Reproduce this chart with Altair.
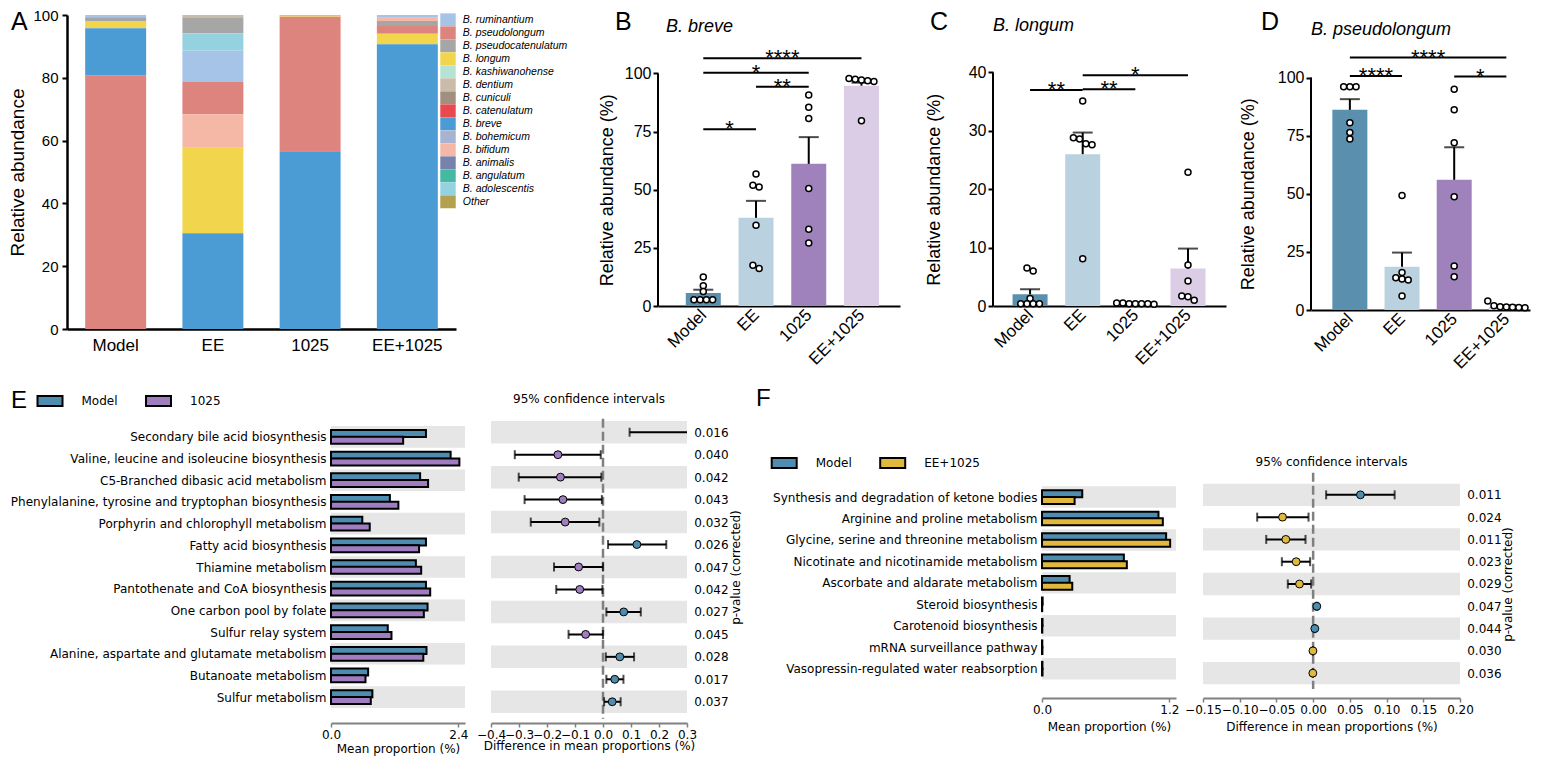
import json
import altair as alt
import pandas as pd

FT = "Liberation Sans, Arial, sans-serif"
FN = "Liberation Sans Narrow, Liberation Sans, sans-serif"
FB = "DejaVu Sans, sans-serif"

# ---------------- data ----------------
groups = ["Model", "EE", "1025", "EE+1025"]
group_colors = ["#5a8fae", "#bad1df", "#9f82bb", "#dacde5"]

species = ["B. ruminantium", "B. pseudolongum", "B. pseudocatenulatum", "B. longum",
           "B. kashiwanohense", "B. dentium", "B. cuniculi", "B. catenulatum", "B. breve",
           "B. bohemicum", "B. bifidum", "B. animalis", "B. angulatum", "B. adolescentis", "Other"]
species_colors = ["#a6c3e8", "#dd847e", "#a6a6a6", "#f1d64d", "#b5e3d6", "#c9bcaa", "#a38f80",
                  "#e84a4f", "#4b9bd5", "#a8b2d1", "#f5b8a7", "#7683ad", "#46b9a2", "#94d2e0", "#b4a14f"]
abund_model = [0.7, 80.7, 1.2, 2.3, 0, 0, 0, 0, 15.1, 0, 0, 0, 0, 0, 0]
abund_ee = [10.0, 10.3, 5.1, 27.2, 0, 0.7, 0, 0, 30.5, 0, 10.7, 0, 0, 5.5, 0]
abund_1025 = [0.12, 42.9, 0.15, 0.2, 0, 0, 0, 0, 56.6, 0, 0.03, 0, 0, 0, 0]
abund_ee1025 = [0.9, 2.5, 1.6, 3.3, 0, 0, 0, 0, 90.7, 0, 1.0, 0, 0, 0, 0]

breve_mean = [5.6, 37.9, 61.1, 94.7]
breve_sem = [7.0, 45.2, 72.6, 96.0]
breve_dots = [[12.5, 8.7, 6.2, 2.7, 2.7, 2.7, 2.7],
              [56.7, 51.9, 51.2, 34.7, 17.5, 16.1],
              [90.7, 85.4, 80.6, 50.5, 33.0, 27.1],
              [97.8, 97.5, 97.2, 96.8, 96.5, 79.6]]
breve_sig = [("Model", "EE", 76.0, "*"), ("EE", "1025", 94.3, "**"),
             ("Model", "1025", 100.3, "*"), ("Model", "EE+1025", 106.5, "****")]

longum_mean = [2.0, 26.0, 0.4, 6.4]
longum_sem = [2.86, 29.7, 0.5, 9.83]
longum_dots = [[6.5, 6.0, 1.3, 0.4, 0.4, 0.4, 0.4],
               [35.1, 28.8, 28.6, 27.8, 27.6, 8.1],
               [0.5, 0.5, 0.4, 0.4, 0.4, 0.3, 0.4],
               [22.9, 7.0, 4.3, 1.7, 1.6, 1.0]]
longum_sig = [("Model", "EE", 37.0, "**"), ("EE", "1025", 37.1, "**"), ("EE", "EE+1025", 39.5, "*")]

pseudo_mean = [86.1, 18.6, 56.0, 1.4]
pseudo_sem = [90.7, 24.7, 70.0, 2.0]
pseudo_dots = [[96.0, 96.0, 96.0, 80.6, 76.4, 73.6],
               [49.3, 16.1, 13.9, 13.3, 12.9, 6.0],
               [95.0, 86.1, 71.9, 48.7, 18.9, 14.3],
               [3.9, 1.8, 1.4, 1.3, 1.2, 1.1, 1.0]]
pseudo_sig = [("Model", "EE", 100.7, "****"), ("Model", "EE+1025", 108.6, "****"),
              ("1025", "EE+1025", 100.4, "*")]

e_paths = ["Secondary bile acid biosynthesis", "Valine, leucine and isoleucine biosynthesis",
           "C5-Branched dibasic acid metabolism", "Phenylalanine, tyrosine and tryptophan biosynthesis",
           "Porphyrin and chlorophyll metabolism", "Fatty acid biosynthesis", "Thiamine metabolism",
           "Pantothenate and CoA biosynthesis", "One carbon pool by folate", "Sulfur relay system",
           "Alanine, aspartate and glutamate metabolism", "Butanoate metabolism", "Sulfur metabolism"]
e_model = [1.79, 2.255, 1.68, 1.11, 0.59, 1.79, 1.60, 1.79, 1.82, 1.07, 1.80, 0.70, 0.78]
e_1025 = [1.36, 2.42, 1.83, 1.27, 0.73, 1.66, 1.70, 1.87, 1.75, 1.14, 1.74, 0.65, 0.75]
e_diff = [0.43, -0.161, -0.152, -0.143, -0.135, 0.121, -0.087, -0.083, 0.074, -0.062, 0.060, 0.042, 0.033]
e_lo = [0.095, -0.315, -0.301, -0.280, -0.258, 0.018, -0.175, -0.167, 0.012, -0.123, 0.010, 0.012, 0.004]
e_hi = [0.77, -0.008, -0.006, -0.004, -0.013, 0.226, 0.0, -0.002, 0.135, 0.0, 0.111, 0.073, 0.063]
e_p = ["0.016", "0.040", "0.042", "0.043", "0.032", "0.026", "0.047", "0.042", "0.027",
       "0.045", "0.028", "0.017", "0.037"]

f_paths = ["Synthesis and degradation of ketone bodies", "Arginine and proline metabolism",
           "Glycine, serine and threonine metabolism", "Nicotinate and nicotinamide metabolism",
           "Ascorbate and aldarate metabolism", "Steroid biosynthesis", "Carotenoid biosynthesis",
           "mRNA surveillance pathway", "Vasopressin-regulated water reabsorption"]
f_model = [0.379, 1.097, 1.169, 0.771, 0.260, 0.006, 0.005, 0.003, 0.004]
f_ee1025 = [0.307, 1.138, 1.207, 0.799, 0.285, 0.002, 0.003, 0.004, 0.005]
f_diff = [0.0644, -0.0417, -0.0372, -0.0231, -0.0186, 0.0050, 0.0023, -0.0003, -0.0004]
f_lo = [0.0177, -0.0762, -0.0639, -0.0426, -0.0345, 0.0040, 0.0015, -0.0006, -0.0007]
f_hi = [0.1110, -0.0063, -0.0104, -0.0041, -0.0027, 0.0060, 0.0030, 0.0000, -0.0001]
f_p = ["0.011", "0.024", "0.011", "0.023", "0.029", "0.047", "0.044", "0.030", "0.036"]

c_model = "#4e8db0"
c_1025 = "#a07cc0"
c_ee1025 = "#e0b93c"
GRAY = "#e6e6e6"
AXGRAY = "#808080"

ONE = pd.DataFrame({"k": [0]})
LET_SIZE = 25
LET_Y = 15.1


def text_at(txt, x, y, font, size, style="normal", align="left", baseline="alphabetic"):
    return alt.Chart(ONE).mark_text(text=txt, font=font, fontSize=size, fontStyle=style,
                                    align=align, baseline=baseline, color="black").encode(
        x=alt.value(x), y=alt.value(y))


def spacer(w):
    return alt.Chart(ONE).mark_point(opacity=0).encode(
        x=alt.X("k:Q", axis=None), y=alt.Y("k:Q", axis=None)).properties(width=w, height=1)


# ---------------- panel A ----------------
A_W, A_H = 389, 314
abund = [abund_model, abund_ee, abund_1025, abund_ee1025]
dfA = pd.DataFrame([{"group": g, "species": s, "value": v}
                    for g, vals in zip(groups, abund) for s, v in zip(species, vals) if v > 0])
A_bars = alt.Chart(dfA).mark_bar().encode(
    x=alt.X("group:N", sort=groups, scale=alt.Scale(paddingInner=0.373, paddingOuter=0.187),
            axis=alt.Axis(title=None, labelAngle=0, ticks=False, labelFont=FT, labelFontSize=17,
                          labelPadding=8, domainColor="black", domainWidth=2.5, labelColor="black")),
    y=alt.Y("value:Q", stack="zero", scale=alt.Scale(domain=[0, 100], nice=False),
            axis=alt.Axis(title="Relative abundance", values=[0, 20, 40, 60, 80, 100], grid=False,
                          tickSize=5, tickWidth=2, tickColor="black", domainColor="black",
                          domainWidth=2.5, labelFont=FT, labelFontSize=15, labelPadding=4,
                          titleFont=FT, titleFontSize=19, titleFontWeight="normal", titlePadding=5,
                          labelColor="black", titleColor="black")),
    color=alt.Color("species:N", scale=alt.Scale(domain=species, range=species_colors),
                    legend=alt.Legend(title=None, orient="none", legendX=374.5, legendY=-1.7,
                                      symbolType="M-1.2,-1H1.2V1H-1.2Z", symbolSize=166,
                                      symbolStrokeWidth=0, symbolOpacity=1, labelFont=FT,
                                      labelFontSize=10.5, labelFontStyle="italic", labelOffset=8.3,
                                      rowPadding=0, padding=0, labelColor="black")),
    order=alt.Order("value:Q", sort="descending"),
)
panelA = alt.layer(A_bars, text_at("A", -56, LET_Y, FN, LET_SIZE)).properties(width=A_W, height=A_H)


# ---------------- panels B-D ----------------
def swarm(values, thr, step):
    vals = sorted(values, reverse=True)
    clusters = [[vals[0]]]
    for v in vals[1:]:
        if clusters[-1][-1] - v < thr:
            clusters[-1].append(v)
        else:
            clusters.append([v])
    res = []
    for c in clusters:
        k = len(c)
        for j, v in enumerate(c):
            res.append((v, (j - (k - 1) / 2) * step))
    return res


def abundance_panel(letter, letter_x, title, title_x, title_y, means, sems, dots, sig,
                    W, H, ytop, yaxis_max, yticks, xdom, ytitle_x):
    step = W / (xdom[1] - xdom[0])
    ppu = H / ytop
    bars = pd.DataFrame({"i": list(range(4)), "grp": groups, "mean": means, "sem": sems})
    drows = []
    for i, vals in enumerate(dots):
        for v, off in swarm(vals, 5 / ppu, 6.5 / step):
            drows.append({"i": i + off, "mean": v})
    sig_df = pd.DataFrame([{"i": groups.index(a), "ib": groups.index(b),
                            "im": (groups.index(a) + groups.index(b)) / 2, "mean": y, "lab": s}
                           for a, b, y, s in sig])
    xs = alt.Scale(domain=xdom, nice=False, zero=False)
    ys = alt.Scale(domain=[0, ytop], nice=False, zero=False)
    xax = alt.Axis(values=[0, 1, 2, 3], labelExpr=json.dumps(groups) + "[datum.value]", title=None,
                   grid=False, ticks=False, labelAngle=315, labelAlign="right", labelBaseline="middle",
                   labelPadding=6, labelFont=FT, labelFontSize=17, labelFlush=False,
                   labelOverlap=False, domainColor="black", domainWidth=2, labelColor="black")
    yax = alt.Axis(values=yticks, title="Relative abundance (%)", grid=False, domain=False,
                   tickSize=5, tickWidth=2, tickColor="black", labelFont=FT, labelFontSize=16,
                   labelPadding=2, titleFont=FT, titleFontSize=18, titleFontWeight="normal",
                   titleX=ytitle_x, titleBaseline="bottom", titleAngle=270,
                   labelColor="black", titleColor="black",
                   titleY=H - (yaxis_max / 2) * ppu)
    X = lambda f: alt.X(f, scale=xs, axis=xax)
    Y = lambda f: alt.Y(f, scale=ys, axis=yax)
    base = alt.Chart(bars).mark_bar(size=35).encode(
        x=X("i:Q"), y=Y("mean:Q"),
        color=alt.Color("grp:N", scale=alt.Scale(domain=groups, range=group_colors), legend=None))
    err = alt.Chart(bars).mark_rule(color="black", strokeWidth=2).encode(x=X("i:Q"), y=Y("mean:Q"), y2="sem")
    cap = alt.Chart(bars).mark_tick(orient="horizontal", size=20, thickness=2, color="black").encode(
        x=X("i:Q"), y=Y("sem:Q"))
    pts = alt.Chart(pd.DataFrame(drows)).mark_circle(size=36, color="white", stroke="black",
                                                     strokeWidth=1.5, opacity=1).encode(
        x=X("i:Q"), y=Y("mean:Q"))
    yl = alt.Chart(pd.DataFrame({"mean": [0], "b": [yaxis_max]})).mark_rule(
        color="black", strokeWidth=2).encode(x=alt.value(0), y=Y("mean:Q"), y2="b")
    brk = alt.Chart(sig_df).mark_rule(color="black", strokeWidth=2).encode(
        x=X("i:Q"), x2="ib", y=Y("mean:Q"))
    stars = alt.Chart(sig_df).mark_text(font=FT, fontSize=22, baseline="alphabetic", dy=7,
                                        color="black").encode(
        x=X("im:Q"), y=Y("mean:Q"), text="lab:N")
    return alt.layer(base, err, cap, pts, yl, brk, stars,
                     text_at(letter, letter_x, LET_Y, FN, LET_SIZE),
                     text_at(title, title_x, title_y, FT, 18, style="italic")
                     ).properties(width=W, height=H)


panelB = abundance_panel("B", -43, "B. breve", 8, 16.6, breve_mean, breve_sem, breve_dots, breve_sig,
                         242, 291, 125.1, 100, [0, 25, 50, 75, 100], [-0.764, 3.636], -42)
panelC = abundance_panel("C", -63, "B. longum", 0, 16.3, longum_mean, longum_sem, longum_dots, longum_sig,
                         233, 291, 49.83, 40, [0, 10, 20, 30, 40], [-0.609, 3.627], -50)
panelD = abundance_panel("D", -50, "B. pseudolongum", 0, 20, pseudo_mean, pseudo_sem, pseudo_dots,
                         pseudo_sig, 219, 295, 126.9, 100, [0, 25, 50, 75, 100], [-0.649, 3.357], -54)


# ---------------- panels E / F ----------------
def lookup_expr(labels):
    return json.dumps(labels) + "[datum.value]"


def prop_bars(names, v1, v2, labels, colors, xmax, xticks, W, H, ydom, leg_x, leg_y,
              letter, letter_x, letter_y, ax_off, xtitle_pad):
    n = len(names)
    off = 0.155
    rows = []
    for i in range(n):
        for k, vals in enumerate([v1, v2]):
            rows.append({"series": labels[k], "value": vals[i], "row": i + (2 * k - 1) * off})
    df = pd.DataFrame(rows)
    bg = pd.DataFrame({"row": [i - 0.5 for i in range(0, n, 2)], "yhi": [i + 0.5 for i in range(0, n, 2)]})
    ys = alt.Scale(domain=ydom, reverse=True, nice=False, zero=False)
    xs = alt.Scale(domain=[0, xmax], nice=False, zero=False)
    yax = alt.Axis(values=list(range(n)), labelExpr=lookup_expr(names), domain=False, ticks=False,
                   grid=False, title=None, labelFont=FB, labelFontSize=12, labelPadding=5,
                   labelLimit=600, labelColor="black")
    xax = alt.Axis(values=xticks, format=".1f", grid=False, domainColor=AXGRAY, domainWidth=2,
                   tickColor=AXGRAY, tickWidth=1.5, tickSize=4, offset=ax_off, labelFont=FB,
                   labelFontSize=12, labelPadding=2, labelFlush=False, labelColor="black",
                   title="Mean proportion (%)", titleFont=FB, titleFontSize=12,
                   titleFontWeight="normal", titlePadding=xtitle_pad, titleColor="black")
    bgl = alt.Chart(bg).mark_rect(color=GRAY).encode(
        x=alt.value(0), x2=alt.value(W), y=alt.Y("row:Q", scale=ys, axis=yax), y2="yhi")
    bars = alt.Chart(df).mark_bar(orient="horizontal", size=7, stroke="black", strokeWidth=2).encode(
        x=alt.X("value:Q", scale=xs, axis=xax, stack=None),
        y=alt.Y("row:Q", scale=ys, axis=yax),
        fill=alt.Fill("series:N", scale=alt.Scale(domain=labels, range=colors),
                      legend=alt.Legend(title=None, orient="none", legendX=leg_x, legendY=leg_y,
                                        direction="horizontal",
                                        symbolType="M-1.25,-0.5H1.25V0.5H-1.25Z", symbolSize=400,
                                        symbolStrokeColor="black", symbolStrokeWidth=2,
                                        symbolOpacity=1, labelFont=FB, labelFontSize=12,
                                        labelOffset=20.5, columnPadding=23.5, padding=0,
                                        labelColor="black")))
    return alt.layer(bgl, bars, text_at(letter, letter_x, letter_y, FN, 24)).properties(width=W, height=H)


def ci_panel(diffs, lo, hi, pvals, pos_color, neg_color, xdom, xticks, fmt, W, H, ydom, zspan,
             title_y, ptitle_x, ptitle_y, xtitle_pad, ax_off):
    n = len(diffs)
    df = pd.DataFrame({"row": list(range(n)), "diff": diffs, "lo": lo, "hi": hi,
                       "col": [pos_color if d > 0 else neg_color for d in diffs]})
    bg = pd.DataFrame({"row": [i - 0.5 for i in range(0, n, 2)], "yhi": [i + 0.5 for i in range(0, n, 2)]})
    ys = alt.Scale(domain=ydom, reverse=True, nice=False, zero=False)
    xs = alt.Scale(domain=xdom, nice=False, zero=False)
    yax = alt.Axis(orient="right", values=list(range(n)), labelExpr=lookup_expr(pvals), domain=False,
                   ticks=False, grid=False, labelFont=FB, labelFontSize=12, labelPadding=6.7,
                   labelColor="black", title="p-value (corrected)", titleAngle=270,
                   titleBaseline="middle", titleAlign="center", titleX=ptitle_x, titleY=ptitle_y,
                   titleFont=FB, titleFontSize=12, titleFontWeight="normal", titleColor="black")
    xax = alt.Axis(values=xticks, format=fmt, grid=False, domainColor=AXGRAY, domainWidth=2,
                   tickColor=AXGRAY, tickWidth=1.5, tickSize=4, offset=ax_off, labelFont=FB,
                   labelFontSize=12, labelPadding=2, labelFlush=False, labelOverlap=False,
                   labelColor="black", title="Difference in mean proportions (%)", titleFont=FB,
                   titleFontSize=12, titleFontWeight="normal", titlePadding=xtitle_pad,
                   titleColor="black")
    X = lambda f: alt.X(f, scale=xs, axis=xax)
    Y = lambda f: alt.Y(f, scale=ys, axis=yax)
    bgl = alt.Chart(bg).mark_rect(color=GRAY).encode(x=alt.value(0), x2=alt.value(W), y=Y("row:Q"), y2="yhi")
    zero = alt.Chart(pd.DataFrame({"lo": [0], "row": [zspan[0]], "b": [zspan[1]]})).mark_rule(
        color=AXGRAY, strokeWidth=2.5, strokeDash=[9, 4]).encode(x=X("lo:Q"), y=Y("row:Q"), y2="b")
    line = alt.Chart(df).mark_rule(color="black", strokeWidth=2, clip=True).encode(
        x=X("lo:Q"), x2="hi", y=Y("row:Q"))
    cap_lo = alt.Chart(df).mark_tick(orient="vertical", size=9, thickness=2, color="black",
                                     clip=True).encode(x=X("lo:Q"), y=Y("row:Q"))
    cap_hi = alt.Chart(df).mark_tick(orient="vertical", size=9, thickness=2, color="black",
                                     clip=True).encode(x=X("hi:Q"), y=Y("row:Q"))
    pts = alt.Chart(df).mark_circle(size=62, stroke="black", strokeWidth=1, opacity=1,
                                    clip=True).encode(
        x=X("diff:Q"), y=Y("row:Q"), fill=alt.Fill("col:N", scale=None))
    ttl = text_at("95% confidence intervals", W / 2, title_y, FB, 12, align="center", baseline="middle")
    return alt.layer(bgl, zero, line, cap_lo, cap_hi, pts, ttl).properties(width=W, height=H)


E_TOP = 420.0
E_H = 292
F_H = 266
E_dom = [-0.5, 12.5]
F_dom = [-0.5 - (482.7 - E_TOP) / 22.29, 8.5 + (E_TOP + F_H - 683.3) / 22.29]

panelE1 = prop_bars(e_paths, e_model, e_1025, ["Model", "1025"], [c_model, c_1025], 2.526, [0, 2.4],
                    134, E_H, E_dom, -292, 389 - E_TOP, "E", -320, 407 - E_TOP, 10, 3)
panelE2 = ci_panel(e_diff, e_lo, e_hi, e_p, c_model, c_1025, [-0.4, 0.3],
                   [-0.4, -0.3, -0.2, -0.1, 0.0, 0.1, 0.2, 0.3], ".1f", 196, E_H, E_dom,
                   [-0.6, 12.76], 398 - E_TOP, 48, E_H / 2, 0, 10)
panelF1 = prop_bars(f_paths, f_model, f_ee1025, ["Model", "EE+1025"], [c_model, c_ee1025], 1.262,
                    [0, 1.2], 134, F_H, F_dom, -268.8, 451 - E_TOP, "F", -286, 405 - E_TOP, 11, 6)
panelF2 = ci_panel(f_diff, f_lo, f_hi, f_p, c_model, c_ee1025, [-0.15, 0.20],
                   [-0.15, -0.10, -0.05, 0.0, 0.05, 0.10, 0.15, 0.20], ".2f", 257, F_H, F_dom,
                   [-0.99, 8.71], 461 - E_TOP, 47, 583 - E_TOP, 6, 11)

row1 = alt.hconcat(panelA, spacer(202), panelB, spacer(93), panelC, spacer(85), panelD,
                   spacing=0, bounds="flush").resolve_scale(
    color="independent", fill="independent").resolve_legend(color="independent", fill="independent")
row2 = alt.hconcat(spacer(264), panelE1, spacer(26), panelE2, spacer(355), panelF1, spacer(27), panelF2,
                   spacing=0, bounds="flush").resolve_scale(
    color="independent", fill="independent").resolve_legend(color="independent", fill="independent")

chart = alt.vconcat(row1, row2, spacing=15,
                    padding={"left": 0, "top": 0, "right": 0, "bottom": 8}).resolve_scale(
    color="independent", fill="independent").resolve_legend(
    color="independent", fill="independent").configure_view(stroke=None).configure_axis(
    labelColor="black", titleColor="black")

chart.save("out.html", embed_options={"renderer": "svg", "actions": False})
